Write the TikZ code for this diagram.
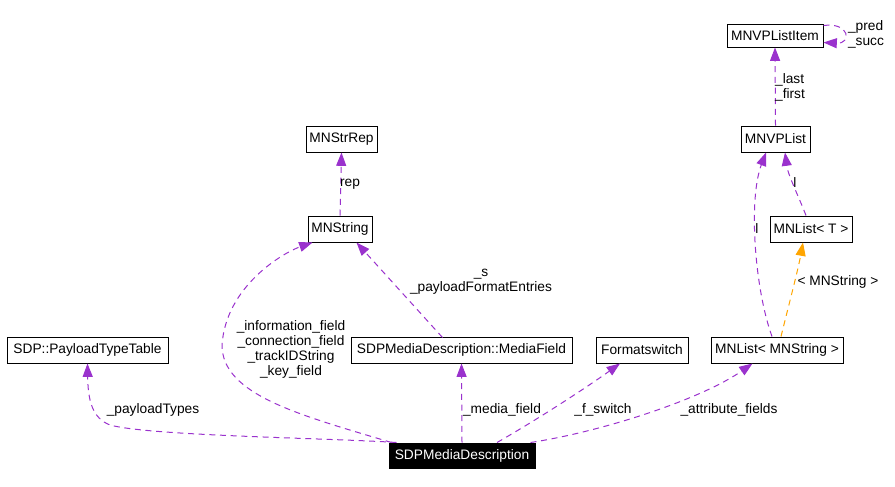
\documentclass[tikz,border=0pt]{standalone}
\usepackage{fontspec}
\setmainfont{Liberation Sans}
\usetikzlibrary{arrows.meta,calc}
\definecolor{usecol}{HTML}{9A32CD}
\definecolor{tplcol}{HTML}{FFA500}
\begin{document}
\begin{tikzpicture}[x=0.75pt,y=-0.75pt,
  box/.style={draw=black,line width=0.75pt,inner sep=0pt,minimum height=19.5pt,
    font=\fontsize{10.3}{12}\selectfont},
  lbl/.style={inner sep=0pt,align=center,font=\fontsize{10.3}{11.4}\selectfont},
  uses/.style={draw=usecol,line width=0.75pt,dash pattern=on 4.5pt off 3.5pt,
    -{Triangle[length=10pt,width=7.5pt]},color=usecol},
  tpl/.style={draw=tplcol,line width=0.75pt,dash pattern=on 4.5pt off 3.5pt,
    -{Triangle[length=10pt,width=7.5pt]},color=tplcol}]
\useasboundingbox (0,0) rectangle (895,486);
% nodes
\node[box,minimum width=72pt,minimum height=17.25pt] (item) at (775,35.5) {MNVPListItem};
\node[box,minimum width=51.75pt] (vplist) at (775.5,139) {MNVPList};
\node[box,minimum width=53.25pt] (strrep) at (341.5,139) {MNStrRep};
\node[box,minimum width=48pt] (mnstring) at (340,229) {MNString};
\node[box,minimum width=120.75pt] (ptt) at (87.5,350) {SDP::PayloadTypeTable};
\node[box,minimum width=165.75pt] (mf) at (461.5,350) {SDPMediaDescription::MediaField};
\node[box,minimum width=69pt] (fs) at (642,350) {Formatswitch};
\node[box,minimum width=99pt] (lists) at (777,350) {MNList< MNString >};
\node[box,minimum width=61.5pt] (listt) at (811,229) {MNList< T >};
\node[box,fill=black,text=white,minimum width=109.5pt,minimum height=18.75pt] (sdp) at (462,455.5) {SDPMediaDescription};
% edges
\draw[uses] ($(sdp.north west)+(8,0)$) .. controls (330,438) and (150,436) .. (110,425)
  .. controls (92,418) and (88,400) .. (ptt.south);
\draw[uses] ($(sdp.north west)+(3,0)$) .. controls (300,415) and (222,395) .. (222,345)
  .. controls (226,285) and (285,252) .. ($(mnstring.south west)+(5,0)$);
\draw[uses] ($(mf.south west)+(92,-26)$) -- ($(mnstring.south west)+(49,0)$);
\draw[uses] (mnstring.north) -- (strrep.south);
\draw[uses] (sdp.north) -- (mf.south);
\draw[uses] ($(sdp.north)+(35,0)$) .. controls (540,418) and (590,385) .. ($(fs.south)+(-22,0)$);
\draw[uses] ($(sdp.north east)+(-5,0)$) .. controls (600,432) and (700,400) .. ($(lists.south west)+(42,0)$);
\draw[uses] ($(lists.north)+(-5,0)$) .. controls (755,290) and (748,200) .. ($(vplist.south)+(-9.5,0)$);
\draw[tpl] ($(lists.north)+(4,0)$) .. controls (790,300) and (798,270) .. ($(listt.south)+(-8,0)$);
\draw[uses] ($(listt.north)+(-5,0)$) .. controls (798,195) and (788,175) .. ($(vplist.south)+(9.5,0)$);
\draw[uses] (vplist.north) -- (item.south);
\draw[uses] ($(item.north east)+(0,2)$) .. controls (850,22) and (852,44) .. ($(item.south east)+(0,-5)$);
% labels
\node[lbl] (l1) at (153,410) {\_payloadTypes};
\node[lbl] (l2) at (291,349.5) {\_information\_field\\\_connection\_field\\\_trackIDString\\\_key\_field};
\node[lbl] (l3) at (481,282) {\_s\\\_payloadFormatEntries};
\node[lbl] (l4) at (350,184) {rep};
\node[lbl] (l5) at (502,410) {\_media\_field};
\node[lbl] (l6) at (603,410) {\_f\_switch};
\node[lbl] (l7) at (729,410) {\_attribute\_fields};
\node[lbl] (l8) at (757,229) {l};
\node[lbl] (l9) at (838,282) {< MNString >};
\node[lbl] (l10) at (795,183) {l};
\node[lbl,align=left] (l11) at (790,87) {\_last\\\_first};
\node[lbl,align=left] (l12) at (866,34) {\_pred\\\_succ};
\end{tikzpicture}
\end{document}
